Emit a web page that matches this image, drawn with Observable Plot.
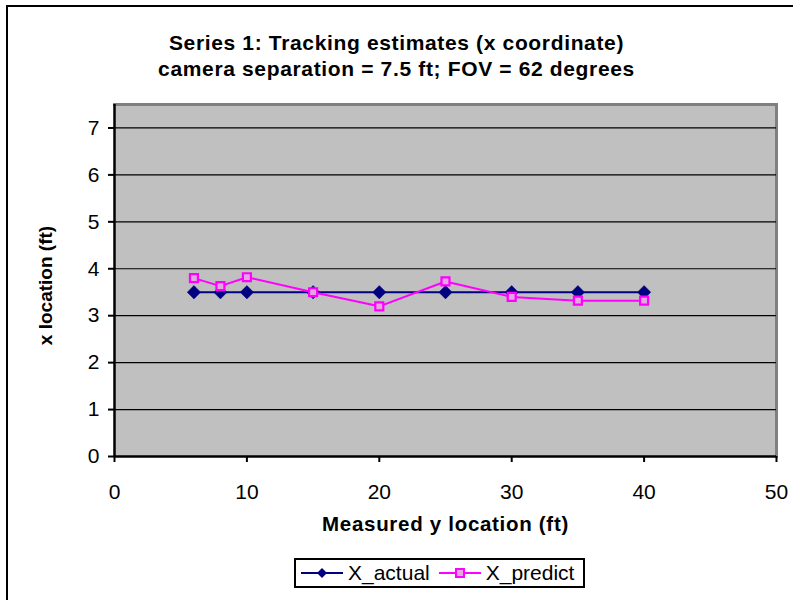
<!DOCTYPE html>
<html>
<head>
<meta charset="utf-8">
<script src="https://cdn.jsdelivr.net/npm/d3@7"></script>
<script src="https://cdn.jsdelivr.net/npm/@observablehq/plot@0.6"></script>
<style>
  html, body { margin: 0; padding: 0; background: #fff; }
  #wrap { position: relative; width: 793px; height: 600px; overflow: hidden; font-family: "Liberation Sans", Arial, sans-serif; }
  #frame { position: absolute; left: 6px; top: 5px; width: 820px; height: 640px; border-left: 2px solid #000; border-top: 2px solid #000; box-sizing: border-box; pointer-events: none; }
  #title { position: absolute; left: 0; top: 30px; width: 793px; text-align: center; font-weight: bold; font-size: 21px; letter-spacing: 0.65px; line-height: 26px; color: #000; }
  #legend { position: absolute; left: 294px; top: 558px; width: 291px; height: 30px; border: 2px solid #000; box-sizing: border-box; background: #fff; display: flex; align-items: center; font-size: 21px; white-space: nowrap; }
  #legend .item { display: flex; align-items: center; }
  #legend svg { display: block; }
  #plot { position: absolute; left: 0; top: 0; }
  #plot .lbl text { letter-spacing: 0.7px; }
</style>
</head>
<body>
<div id="wrap">
  <div id="plot"></div>
  <div id="title">Series 1: Tracking estimates (x coordinate)<br>camera separation = 7.5 ft; FOV = 62 degrees</div>
  <div id="legend"></div>
  <div id="frame"></div>
</div>
<script>
const yMeasured = [6, 8, 10, 15, 20, 25, 30, 35, 40];
const xActual = [3.5, 3.5, 3.5, 3.5, 3.5, 3.5, 3.5, 3.5, 3.5];
const xPredict = [3.8, 3.63, 3.82, 3.5, 3.2, 3.73, 3.4, 3.32, 3.32];
const xTicks = [0, 10, 20, 30, 40, 50];
const yTicks = [0, 1, 2, 3, 4, 5, 6, 7];
const gridTicks = [1, 2, 3, 4, 5, 6, 7];
const seriesNames = ["X_actual", "X_predict"];
const seriesColors = ["#000080", "#ff00ff"];

const actual = yMeasured.map((y, i) => ({y, x: xActual[i]}));
const predict = yMeasured.map((y, i) => ({y, x: xPredict[i]}));

const chart = Plot.plot({
  width: 793,
  height: 600,
  marginLeft: 114,
  marginRight: 17,
  marginTop: 104,
  marginBottom: 144,
  style: { fontFamily: "Liberation Sans, Arial, sans-serif", background: "transparent", color: "#000" },
  x: { domain: [0, 50] },
  y: { domain: [0, 7.5] },
  marks: [
    Plot.frame({ fill: "#c0c0c0", stroke: "none" }),
    Plot.frame({ anchor: "top", stroke: "#808080", strokeWidth: 3 }),
    Plot.frame({ anchor: "right", stroke: "#808080", strokeWidth: 3 }),
    Plot.ruleY(gridTicks, { stroke: "#000", strokeWidth: 1.2 }),
    Plot.axisX({ ticks: xTicks, tickSize: 6, tickPadding: 22, tickFormat: d => d, label: null, strokeWidth: 2, fontSize: 21 }),
    Plot.axisY({ ticks: yTicks, tickSize: 6, tickPadding: 9, tickFormat: d => d, label: null, strokeWidth: 2, fontSize: 21 }),
    Plot.ruleX([0], { stroke: "#000", strokeWidth: 2.5 }),
    Plot.ruleY([0], { stroke: "#000", strokeWidth: 2.5 }),
    Plot.line(actual, { x: "y", y: "x", stroke: seriesColors[0], strokeWidth: 2 }),
    Plot.dot(actual, { x: "y", y: "x", symbol: "diamond2", r: 6, fill: seriesColors[0], stroke: seriesColors[0], strokeWidth: 0.5 }),
    Plot.line(predict, { x: "y", y: "x", stroke: seriesColors[1], strokeWidth: 2 }),
    Plot.dot(predict, { x: "y", y: "x", symbol: "square", r: 4.5, fill: "#e2a6e2", stroke: seriesColors[1], strokeWidth: 2.2 }),
    Plot.text(["x location (ft)"], { frameAnchor: "left", dx: -69, dy: 5, rotate: -90, fontWeight: "bold", fontSize: 19, textAnchor: "middle", lineAnchor: "middle" }),
    Plot.text(["Measured y location (ft)"], { frameAnchor: "bottom", dy: 68, fontWeight: "bold", fontSize: 20.5, textAnchor: "middle", lineAnchor: "middle", className: "lbl" })
  ]
});
document.getElementById("plot").appendChild(chart);

// Legend
const legend = d3.select("#legend");
seriesNames.forEach((name, i) => {
  const item = legend.append("div").attr("class", "item").style("margin-left", i === 0 ? "5px" : "9px");
  const s = item.append("svg").attr("width", 42).attr("height", 14);
  s.append("line").attr("x1", 0).attr("x2", 42).attr("y1", 7).attr("y2", 7).attr("stroke", seriesColors[i]).attr("stroke-width", 2);
  if (i === 0) {
    s.append("path").attr("d", "M21,2 L26,7 L21,12 L16,7 Z").attr("fill", seriesColors[0]);
  } else {
    s.append("rect").attr("x", 17).attr("y", 3).attr("width", 8).attr("height", 8).attr("fill", "#e2a6e2").attr("stroke", seriesColors[1]).attr("stroke-width", 2);
  }
  item.append("span").text(name).style("margin-left", "5px");
});
</script>
</body>
</html>
